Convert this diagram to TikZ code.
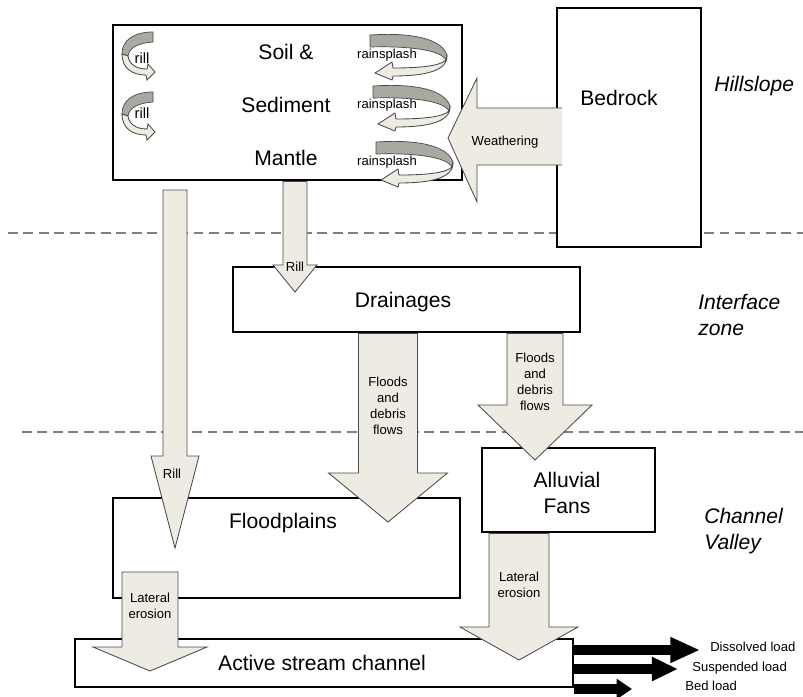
\documentclass[tikz,border=0pt]{standalone}
\usepackage{fontspec}
\setmainfont{Liberation Sans}
\usetikzlibrary{calc,arrows.meta}

\definecolor{flowfill}{HTML}{EEECE2}
\definecolor{bandgray}{HTML}{A9A9A1}
\definecolor{edgegray}{HTML}{4A4A4A}

\newcommand{\boxsize}{\fontsize{15pt}{18.5pt}\selectfont}
\newcommand{\notesize}{\fontsize{9.3pt}{11.4pt}\selectfont}

\tikzset{
  box/.style={draw, line width=2pt, fill=white, inner sep=0pt},
  flow/.style={fill=flowfill, draw=edgegray, line width=0.6pt},
  band/.style={fill=bandgray, draw=edgegray, line width=0.5pt},
  zone/.style={draw=gray, line width=1.3pt, dash pattern=on 7pt off 4pt},
  big/.style={font=\boxsize, align=center, inner sep=0pt},
  lbl/.style={font=\notesize, align=center, inner sep=0pt},
  region/.style={font=\boxsize\itshape, align=left, anchor=west, inner sep=0pt},
  load/.style={line width=7pt},
}

% block arrow pointing down: top, tip, shaft half width, head half width, head length
\newcommand{\downflow}[5]{
  \filldraw[flow] ($(#1)+(-#3,0)$) -- ($(#1)+(#3,0)$) -- ($(#2)+(#3,-#5)$) -- ($(#2)+(#4,-#5)$)
    -- (#2) -- ($(#2)+(-#4,-#5)$) -- ($(#2)+(-#3,-#5)$) -- cycle;
}

% curled arrows inside the mantle box
\newcommand{\rillswirl}[1]{
  \begin{scope}[shift={(#1)}]
    \filldraw[band] (31,0) .. controls (12,0) and (0,8) .. (0,22) -- (6,24) .. controls (7,16) and (16,11) .. (31,10) -- cycle;
    \filldraw[flow] (0,22) .. controls (0,36) and (10,43) .. (24,43) -- (25,48) -- (33,40) -- (26,32) -- (25,37) .. controls (14,37) and (7,32) .. (6,24) -- cycle;
  \end{scope}
}
\newcommand{\splashswirl}[1]{
  \begin{scope}[shift={(#1)}]
    \filldraw[band] (0,2) .. controls (30,0) and (70,2) .. (77,22) -- (76,27) .. controls (70,16) and (35,13) .. (0,14) -- cycle;
    \filldraw[flow] (76,27) .. controls (70,33) and (50,35) .. (23,35) -- (22,29) -- (5,40) -- (22,47) -- (23,43) .. controls (55,43) and (78,38) .. (77,22) -- cycle;
  \end{scope}
}

\begin{document}
\begin{tikzpicture}[x=0.025cm, y=-0.025cm]
    \useasboundingbox (0,0) rectangle (803,697);

    % zone limits
    \draw[zone] (8,233) -- (803,233);
    \draw[zone] (22,432) -- (803,432);

    % boxes
    \node[box, minimum width=8.725cm, minimum height=3.875cm] (soil) at (287.5,102.5) {};
    \node[box, minimum width=3.6cm, minimum height=5.975cm] (bedrock) at (629,127.5) {};
    \node[box, minimum width=8.675cm, minimum height=1.625cm] (drain) at (406.5,299.5) {};
    \node[box, minimum width=4.325cm, minimum height=2.1cm] (fans) at (568.5,490) {};
    \node[box, minimum width=8.675cm, minimum height=2.5cm] (flood) at (286.5,548) {};
    \node[box, minimum width=12.45cm, minimum height=1.2cm] (channel) at (324,663) {};

    % rill and rainsplash curls
    \rillswirl{122,32}
    \rillswirl{122,92}
    \splashswirl{370,33}
    \splashswirl{373,84}
    \splashswirl{376,140}

    % weathering, open at the bedrock side
    \fill[flowfill] (562,108) -- (477,108) -- (477,78) -- (448,138) -- (477,202) -- (477,165) -- (562,165) -- cycle;
    \draw[flow, fill=none] (562,108) -- (477,108) -- (477,78) -- (448,138) -- (477,202) -- (477,165) -- (562,165);

    % tips of the block arrows
    \coordinate (rillatip) at (295,292);
    \coordinate (rillbtop) at (175,190);
    \coordinate (rillbtip) at (175,548);
    \coordinate (floodatip) at (388,522);
    \coordinate (floodbtip) at (535,460);
    \coordinate (latatop) at (150,572);
    \coordinate (latatip) at (150,671);
    \coordinate (latbtip) at (519,660);

    \downflow{soil.south -| rillatip}{rillatip}{12}{22}{27}
    \downflow{rillbtop}{rillbtip}{12}{24}{92}
    \downflow{drain.south -| floodatip}{floodatip}{29.5}{59.5}{49}
    \downflow{drain.south -| floodbtip}{floodbtip}{28}{57}{55}
    \downflow{latatop}{latatip}{28}{57}{24}
    \downflow{fans.south -| latbtip}{latbtip}{30}{59}{33}

    % box texts
    \node[big] (soiltxt) at (286,52) {Soil \&};
    \node[big] (sedtxt) at (286,105) {Sediment};
    \node[big] (mantletxt) at (286,158) {Mantle};
    \node[big] (bedtxt) at (619,98) {Bedrock};
    \node[big] (draintxt) at (403,302) {Drainages};
    \node[big] (floodtxt) at (283,523) {Floodplains};
    \node[big] (fanstxt) at (567,493) {Alluvial\\Fans};
    \node[big] (channeltxt) at (322,663) {Active stream channel};

    % process labels
    \node[lbl, font=\fontsize{10.5pt}{12pt}\selectfont] (rilla) at (142,58) {rill};
    \node[lbl, font=\fontsize{10.5pt}{12pt}\selectfont] (rillb) at (142,113) {rill};
    \node[lbl] (splasha) at (387,55) {rainsplash};
    \node[lbl] (splashb) at (387,105) {rainsplash};
    \node[lbl] (splashc) at (387,162) {rainsplash};
    \node[lbl] (weathtxt) at (505,142) {Weathering};
    \node[lbl] (rillatxt) at (295,267) {Rill};
    \node[lbl] (rillbtxt) at (172,474) {Rill};
    \node[lbl] (floodatxt) at (388,406) {Floods\\and\\debris\\flows};
    \node[lbl] (floodbtxt) at (535,382) {Floods\\and\\debris\\flows};
    \node[lbl] (latatxt) at (150,606) {Lateral\\erosion};
    \node[lbl] (latbtxt) at (519,585) {Lateral\\erosion};

    % zones
    \node[region] (hill) at (714,86) {Hillslope};
    \node[region] (iface) at (698,315) {Interface\\zone};
    \node[region] (valley) at (704,531) {Channel\\Valley};

    % loads leaving the channel
    \coordinate (dissolved) at (700,650);
    \coordinate (suspended) at (678,669);
    \coordinate (bed) at (632,689);
    \draw[load, -{Triangle[length=21pt,width=17pt]}] (channel.east |- dissolved) -- (dissolved);
    \draw[load, -{Triangle[length=18.5pt,width=16pt]}] (channel.east |- suspended) -- (suspended);
    \draw[load, -{Triangle[length=11pt,width=14pt]}] (channel.east |- bed) -- (bed);
    \node[lbl, anchor=west] (distxt) at (710,647) {Dissolved load};
    \node[lbl, anchor=west] (sustxt) at (692,668) {Suspended load};
    \node[lbl, anchor=west] (bedloadtxt) at (685,686) {Bed load};

\end{tikzpicture}
\end{document}
